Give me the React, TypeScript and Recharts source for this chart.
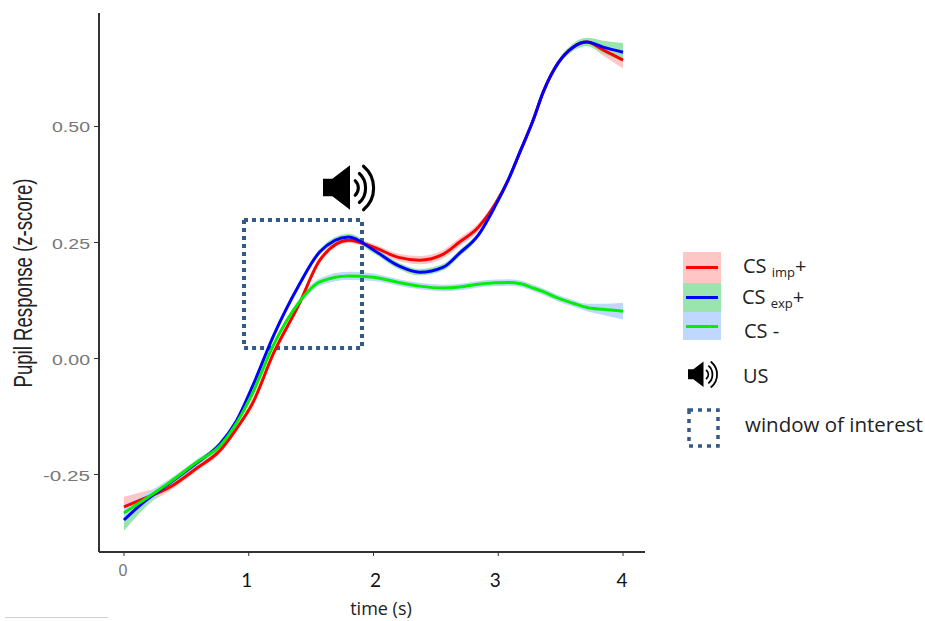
import { ComposedChart, Area, Line, XAxis, YAxis, ReferenceArea, Label } from "recharts";

// seconds
const times = [0, 0.13, 0.37, 0.585, 0.77, 0.9, 1.03, 1.2, 1.4, 1.57, 1.8, 2, 2.2, 2.37, 2.56, 2.69, 2.84, 2.98, 3.08, 3.18, 3.28, 3.36, 3.48, 3.6, 3.71, 3.84, 4];

const csImp = [-0.32, -0.305, -0.277, -0.236, -0.198, -0.152, -0.097, 0.012, 0.115, 0.212, 0.255, 0.24, 0.218, 0.212, 0.225, 0.251, 0.283, 0.335, 0.385, 0.449, 0.514, 0.574, 0.637, 0.671, 0.682, 0.665, 0.643];
const csExp = [-0.348, -0.316, -0.268, -0.225, -0.184, -0.135, -0.06, 0.05, 0.157, 0.23, 0.262, 0.234, 0.2, 0.186, 0.197, 0.227, 0.266, 0.331, 0.385, 0.449, 0.514, 0.574, 0.637, 0.671, 0.682, 0.671, 0.66];
const csMinus = [-0.333, -0.31, -0.266, -0.223, -0.188, -0.14, -0.075, 0.03, 0.12, 0.165, 0.178, 0.175, 0.164, 0.156, 0.152, 0.154, 0.16, 0.163, 0.164, 0.161, 0.152, 0.144, 0.13, 0.119, 0.11, 0.106, 0.102];

const impBand = [0.022, 0.016, 0.008, 0.006, 0.006, 0.006, 0.006, 0.006, 0.006, 0.006, 0.006, 0.007, 0.008, 0.009, 0.009, 0.009, 0.008, 0.006, 0.005, 0.005, 0.005, 0.005, 0.005, 0.006, 0.007, 0.012, 0.018];
const expBand = [0.024, 0.016, 0.008, 0.006, 0.006, 0.006, 0.006, 0.006, 0.006, 0.006, 0.007, 0.007, 0.007, 0.007, 0.007, 0.007, 0.006, 0.005, 0.005, 0.005, 0.005, 0.005, 0.006, 0.008, 0.009, 0.014, 0.02];
const minusBand = [0.016, 0.012, 0.007, 0.006, 0.006, 0.006, 0.006, 0.006, 0.006, 0.008, 0.009, 0.008, 0.007, 0.007, 0.007, 0.007, 0.007, 0.007, 0.007, 0.007, 0.007, 0.007, 0.007, 0.007, 0.008, 0.012, 0.018];

const xTicks = [0, 1, 2, 3, 4];
const yTicks = [-0.25, 0, 0.25, 0.5];
const windowX = [0.962, 1.908];
const windowY = [0.0226, 0.2985];

const data = times.map((t, i) => ({
  t,
  imp: csImp[i],
  exp: csExp[i],
  minus: csMinus[i],
  impRange: [csImp[i] - impBand[i], csImp[i] + impBand[i]],
  expRange: [csExp[i] - expBand[i], csExp[i] + expBand[i]],
  minusRange: [csMinus[i] - minusBand[i], csMinus[i] + minusBand[i]],
}));

const RED = "#ff0000";
const BLUE = "#0000ff";
const GREEN = "#00ee00";
const RED_FILL = "#ffc6c6";
const GREEN_FILL = "#9ae5ae";
const BLUE_FILL = "#c0d8ff";
const WINDOW = "#355a85";
const OFFICE_FONT = "'Open Sans', sans-serif";

function XTick({ x, y, payload }: any) {
  if (payload.value === 0) {
    return <text x={x - 1} y={y + 18} textAnchor="middle" fontFamily="Liberation Sans" fontSize={16} fill="#777">0</text>;
  }
  const nudge = { 1: -2, 2: 2, 3: -3, 4: -1 }[payload.value as 1 | 2 | 3 | 4];
  return <text x={x + nudge} y={y + 29} textAnchor="middle" fontFamily="Lato, sans-serif" fontSize={19} fill="#111">{payload.value}</text>;
}

// the original labels are stretched sideways, so fix their length
function YTick({ x, y, payload }: any) {
  const label = payload.value.toFixed(2);
  return (
    <text x={x - 2} y={y + 6} textAnchor="end" fontFamily="Liberation Sans" fontSize={15.5} fill="#777" textLength={label.length > 4 ? 47 : 38} lengthAdjust="spacingAndGlyphs">
      {label}
    </text>
  );
}

function YTitle() {
  return (
    <text transform="translate(32,283) rotate(-90)" textAnchor="middle" fontFamily="Liberation Sans" fontSize={25} fill="#222" textLength={209} lengthAdjust="spacingAndGlyphs">
      Pupil Response (z-score)
    </text>
  );
}

function Speaker({ x, y, size }: { x: number; y: number; size: number }) {
  return (
    <svg width={size} height={size} viewBox="0 0 52 44" style={{ position: "absolute", left: x, top: y }}>
      <path d="M0 13 H9 L26 0 V43 L9 30 H0 Z" fill="#000" />
      <g fill="none" stroke="#000" strokeWidth={3} strokeLinecap="round">
        <path d="M31 15 C35 19 35 25 31 29" />
        <path d="M35 8 C43 15 43 29 35 36" />
        <path d="M39 1 C52 12 52 32 39 43" />
      </g>
    </svg>
  );
}

function Swatch({ top, height, fill, line }: { top: number; height: number; fill: string; line: string }) {
  return (
    <div style={{ position: "absolute", left: 683, top, width: 38, height, background: fill }}>
      <div style={{ position: "absolute", left: 3, right: 3, top: height / 2 - 1.5, height: 3, background: line }} />
    </div>
  );
}

function Note({ x, y, size = 20, children }: { x: number; y: number; size?: number; children: any }) {
  return (
    <div style={{ position: "absolute", left: x, top: y, fontFamily: OFFICE_FONT, fontSize: size, lineHeight: "22px", color: "#222", whiteSpace: "nowrap" }}>
      {children}
    </div>
  );
}

export default function App() {
  return (
    <div style={{ position: "absolute", left: 0, top: 0, width: 925, height: 621, background: "#fff", overflow: "hidden" }}>
      <ComposedChart width={925} height={621} data={data} margin={{ top: 13, right: 280, bottom: 0, left: 0 }}>
        <XAxis
          dataKey="t"
          type="number"
          domain={[-0.2, 4.176]}
          ticks={xTicks}
          height={69}
          tick={<XTick />}
          tickSize={4}
          axisLine={{ stroke: "#333", strokeWidth: 2 }}
          tickLine={{ stroke: "#333" }}
          label={{ value: "time (s)", position: "insideBottom", offset: 6, dx: 9, fontFamily: OFFICE_FONT, fontSize: 18, fill: "#222" }}
        />
        <YAxis
          type="number"
          domain={[-0.417, 0.7446]}
          ticks={yTicks}
          width={99}
          tick={<YTick />}
          tickSize={5}
          axisLine={{ stroke: "#333", strokeWidth: 2 }}
          tickLine={{ stroke: "#333" }}
        >
          <Label content={<YTitle />} />
        </YAxis>
        <Area dataKey="impRange" type="monotone" fill={RED_FILL} fillOpacity={1} stroke="none" isAnimationActive={false} />
        <Area dataKey="expRange" type="monotone" fill={GREEN_FILL} fillOpacity={1} stroke="none" isAnimationActive={false} />
        <Area dataKey="minusRange" type="monotone" fill={BLUE_FILL} fillOpacity={1} stroke="none" isAnimationActive={false} />
        <Line dataKey="imp" type="monotone" stroke={RED} strokeWidth={3} dot={false} isAnimationActive={false} />
        <Line dataKey="exp" type="monotone" stroke={BLUE} strokeWidth={3} dot={false} isAnimationActive={false} />
        <Line dataKey="minus" type="monotone" stroke={GREEN} strokeWidth={3} dot={false} isAnimationActive={false} />
        <ReferenceArea
          x1={windowX[0]}
          x2={windowX[1]}
          y1={windowY[0]}
          y2={windowY[1]}
          fill="none"
          stroke={WINDOW}
          strokeWidth={4}
          strokeDasharray="4 4"
          ifOverflow="visible"
        />
      </ComposedChart>

      <Speaker x={323} y={161} size={54} />

      <Swatch top={252} height={31} fill={RED_FILL} line={RED} />
      <Swatch top={283} height={29} fill={GREEN_FILL} line={BLUE} />
      <Swatch top={312} height={28} fill={BLUE_FILL} line={GREEN} />

      <Note x={743} y={255}>CS <span style={{ fontSize: 13, position: "relative", top: 4 }}>imp</span>+</Note>
      <Note x={742} y={286}>CS <span style={{ fontSize: 13, position: "relative", top: 4 }}>exp</span>+</Note>
      <Note x={744} y={320}>CS -</Note>
      <Note x={743} y={365}>US</Note>
      <Note x={745} y={413} size={20.5}>window of interest</Note>

      <Speaker x={688} y={359} size={31} />
      <svg width={40} height={48} style={{ position: "absolute", left: 683, top: 404 }}>
        <rect x={6} y={6} width={29} height={36} fill="none" stroke={WINDOW} strokeWidth={3.5} strokeDasharray="4 5" />
      </svg>
      <div style={{ position: "absolute", left: 5, top: 617, width: 103, height: 1, background: "#d0d0d0" }} />
    </div>
  );
}
